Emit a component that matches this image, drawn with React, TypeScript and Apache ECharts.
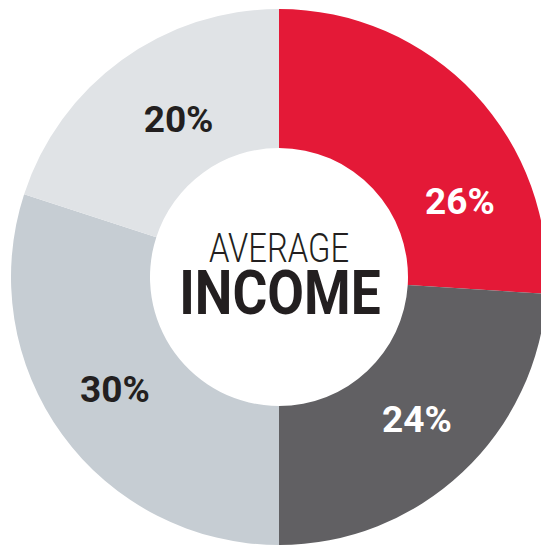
import React, { useEffect, useRef } from "react";
import * as echarts from "echarts";

const categories = ["Segment A", "Segment B", "Segment C", "Segment D"];
const values = [26, 24, 30, 20];
const sliceColors = ["#E41937", "#616063", "#C6CDD3", "#E0E3E6"];
const labelColors = ["#FFFFFF", "#FFFFFF", "#231F20", "#231F20"];
const labelOffsets = [[34, 62], [0, -4], [-1, -6], [18, 6]];
const titleTop = "AVERAGE";
const titleBottom = "INCOME";

export default function App() {
  const ref = useRef<HTMLDivElement>(null);
  useEffect(() => {
    document.body.style.margin = "0";
    const chart = echarts.init(ref.current!, null, { renderer: "svg" });
    chart.setOption({
      animation: false,
      backgroundColor: "#FFFFFF",
      series: [
        {
          type: "pie",
          center: [279, 277],
          radius: [129, 268],
          startAngle: 90,
          clockwise: true,
          avoidLabelOverlap: false,
          labelLine: { show: false },
          itemStyle: { borderWidth: 0 },
          emphasis: { disabled: true },
          data: categories.map((name, i) => ({
            name,
            value: values[i],
            itemStyle: { color: sliceColors[i] },
            label: {
              show: true,
              position: "inside",
              formatter: values[i] + "%",
              color: labelColors[i],
              fontFamily: "Roboto, 'Liberation Sans', sans-serif",
              fontWeight: "bold",
              fontSize: 37,
              offset: labelOffsets[i],
            },
          })),
        },
      ],
      graphic: [
        {
          type: "text",
          x: 279,
          y: 248,
          scaleX: 0.82,
          style: {
            text: titleTop,
            fill: "#231F20",
            font: "300 40px Roboto, 'Liberation Sans', sans-serif",
            textAlign: "center",
            textVerticalAlign: "middle",
          },
        },
        {
          type: "text",
          x: 280,
          y: 293,
          scaleX: 0.86,
          style: {
            text: titleBottom,
            fill: "#231F20",
            font: "bold 62px Roboto, 'Liberation Sans', sans-serif",
            textAlign: "center",
            textVerticalAlign: "middle",
          },
        },
      ],
    });
    return () => chart.dispose();
  }, []);
  return (
    <div
      ref={ref}
      style={{ position: "absolute", left: 0, top: 0, width: 541, height: 546 }}
    />
  );
}
